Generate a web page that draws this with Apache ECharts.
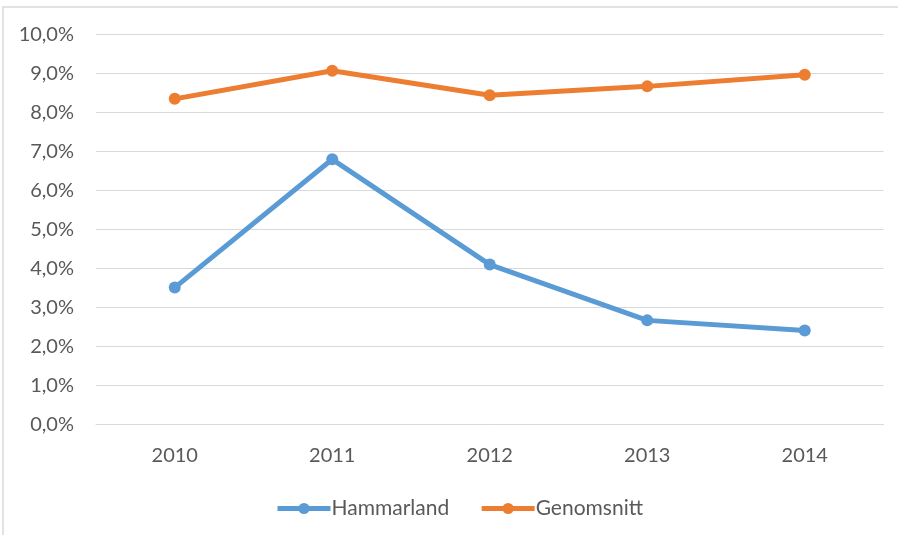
<!DOCTYPE html>
<html>
<head>
<meta charset="utf-8">
<script src="https://cdn.jsdelivr.net/npm/echarts@6/dist/echarts.min.js"></script>
<style>
  html, body { margin: 0; padding: 0; background: #fff; }
  #chart { width: 898px; height: 535px; }
</style>
</head>
<body>
<div id="chart"></div>
<script>
// årtal och andel i procent
const years = ['2010', '2011', '2012', '2013', '2014'];
const hammarland = [3.51, 6.80, 4.10, 2.67, 2.41];
const genomsnitt = [8.35, 9.07, 8.44, 8.67, 8.97];

const textColor = '#595959';
const fontFamily = 'Lato, "Open Sans", sans-serif';

const chart = echarts.init(document.getElementById('chart'));

function pct(v) {
    return v.toFixed(1).replace('.', ',') + '%';
}

chart.setOption({
    animation: false,
    graphic: [{
        type: 'rect',
        shape: { x: 3, y: 7, width: 900, height: 540 },
        style: { fill: 'none', stroke: '#d9d9d9', lineWidth: 1.5 },
        silent: true
    }],
    grid: {
        left: 96,
        right: 14.5,
        top: 34.5,
        bottom: 110.5
    },
    legend: {
        left: 270,
        top: 493,
        itemWidth: 53,
        itemHeight: 14,
        itemGap: 30,
        lineStyle: { width: 5 },
        textStyle: { color: textColor, fontSize: 21, fontFamily: fontFamily, padding: [0, 0, 0, -4] },
        data: ['Hammarland', 'Genomsnitt']
    },
    xAxis: {
        type: 'category',
        data: years,
        boundaryGap: true,
        axisLine: { show: true, lineStyle: { color: '#d9d9d9', width: 1 } },
        axisTick: { show: false },
        axisLabel: { color: textColor, fontSize: 20, fontFamily: fontFamily, margin: 21 }
    },
    yAxis: {
        type: 'value',
        min: 0,
        max: 10,
        interval: 1,
        axisLine: { show: false },
        axisTick: { show: false },
        splitLine: { lineStyle: { color: '#d9d9d9', width: 1 } },
        axisLabel: {
            color: textColor,
            fontSize: 20,
            fontFamily: fontFamily,
            margin: 22,
            formatter: pct
        }
    },
    series: [{
        name: 'Hammarland',
        type: 'line',
        data: hammarland,
        symbol: 'circle',
        symbolSize: 12,
        color: '#5b9bd5',
        lineStyle: { width: 5, color: '#5b9bd5' },
        itemStyle: { color: '#5b9bd5' }
    }, {
        name: 'Genomsnitt',
        type: 'line',
        data: genomsnitt,
        symbol: 'circle',
        symbolSize: 12,
        color: '#ed7d31',
        lineStyle: { width: 5, color: '#ed7d31' },
        itemStyle: { color: '#ed7d31' }
    }]
});
</script>
</body>
</html>
